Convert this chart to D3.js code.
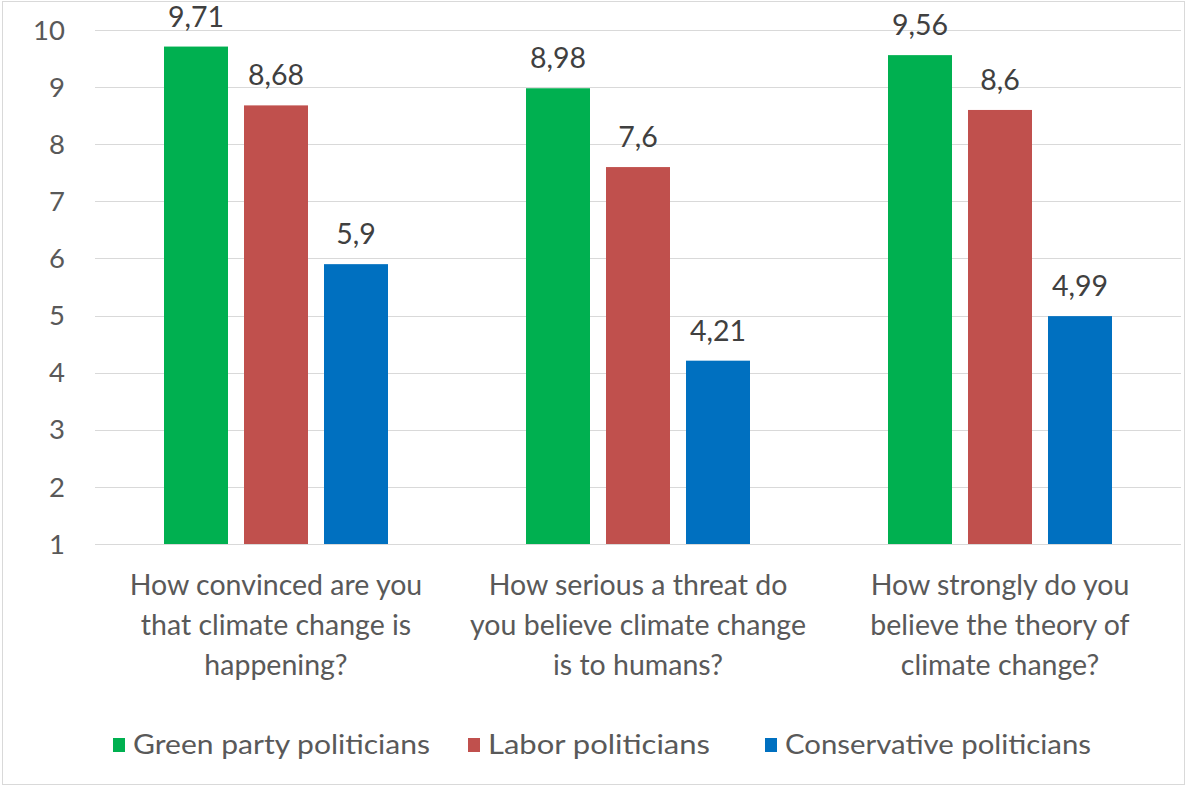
<!DOCTYPE html>
<html>
<head>
<meta charset="utf-8">
<script src="https://cdn.jsdelivr.net/npm/d3@7"></script>
<style>
  html, body { margin: 0; padding: 0; background: #fff; }
  svg { display: block; font-family: Lato, "Open Sans", sans-serif; }
</style>
</head>
<body>
<div id="chart"></div>
<script>
// Data
const categories = [
  ['How convinced are you', 'that climate change is', 'happening?'],
  ['How serious a threat do', 'you believe climate change', 'is to humans?'],
  ['How strongly do you', 'believe the theory of', 'climate change?']
];
const seriesNames = ['Green party politicians', 'Labor politicians', 'Conservative politicians'];
const seriesColors = ['#00b050', '#c0504d', '#0070c0'];
const greenValues = [9.71, 8.98, 9.56];
const laborValues = [8.68, 7.6, 8.6];
const conservativeValues = [5.9, 4.21, 4.99];
const yTicks = [1, 2, 3, 4, 5, 6, 7, 8, 9, 10];

const series = [greenValues, laborValues, conservativeValues];

const width = 1187, height = 787;
const plot = { left: 95, right: 1181, top: 30, bottom: 544 };
const textColor = '#595959';

const svg = d3.select('#chart')
  .append('svg')
  .attr('width', width)
  .attr('height', height);

// chart border
svg.append('rect')
  .attr('x', 2.5).attr('y', 1.5)
  .attr('width', width - 5).attr('height', height - 4)
  .attr('fill', '#fff')
  .attr('stroke', '#d9d9d9');

const y = d3.scaleLinear().domain([1, 10]).range([plot.bottom, plot.top]);

const x0 = d3.scaleBand()
  .domain(d3.range(categories.length))
  .range([plot.left, plot.right]);

const x1 = d3.scaleBand()
  .domain(d3.range(series.length))
  .range([69, x0.bandwidth() - 69])
  .paddingInner(0.2);

// gridlines
svg.append('g')
  .selectAll('line')
  .data(yTicks)
  .join('line')
  .attr('x1', plot.left).attr('x2', plot.right)
  .attr('y1', d => Math.round(y(d)) + 0.5)
  .attr('y2', d => Math.round(y(d)) + 0.5)
  .attr('stroke', '#d9d9d9')
  .attr('stroke-width', 1);

// y tick labels
svg.append('g')
  .selectAll('text')
  .data(yTicks)
  .join('text')
  .attr('x', 65)
  .attr('y', d => y(d))
  .attr('dy', '0.35em')
  .attr('text-anchor', 'end')
  .attr('fill', textColor)
  .attr('font-size', 27.5)
  .text(d => d);

// bars
const groups = svg.append('g')
  .selectAll('g')
  .data(categories)
  .join('g')
  .attr('transform', (d, i) => `translate(${x0(i)},0)`);

groups.selectAll('rect')
  .data((d, i) => series.map((s, j) => ({ j, v: s[i] })))
  .join('rect')
  .attr('x', d => x1(d.j))
  .attr('width', x1.bandwidth())
  .attr('y', d => y(d.v))
  .attr('height', d => y(1) - y(d.v))
  .attr('fill', d => seriesColors[d.j]);

// value labels
groups.selectAll('text.value')
  .data((d, i) => series.map((s, j) => ({ j, v: s[i] })))
  .join('text')
  .attr('class', 'value')
  .attr('x', d => x1(d.j) + x1.bandwidth() / 2)
  .attr('y', d => y(d.v) - 20)
  .attr('text-anchor', 'middle')
  .attr('fill', '#404040')
  .attr('font-size', 28.5)
  .text(d => String(d.v).replace('.', ','));

// category labels
groups.append('text')
  .attr('text-anchor', 'middle')
  .attr('fill', textColor)
  .attr('font-size', 28.5)
  .selectAll('tspan')
  .data(d => d)
  .join('tspan')
  .attr('x', x0.bandwidth() / 2)
  .attr('y', (d, k) => 595 + k * 40)
  .text(d => d);

// legend
const legendX = [113, 468, 765];
const legendW = [297, 222, 306];
const legend = svg.append('g')
  .selectAll('g')
  .data(seriesNames)
  .join('g')
  .attr('transform', (d, i) => `translate(${legendX[i]},745)`);

legend.append('rect')
  .attr('x', 0).attr('y', -7)
  .attr('width', 12).attr('height', 14)
  .attr('fill', (d, i) => seriesColors[i]);

legend.append('text')
  .attr('x', 20)
  .attr('y', 0)
  .attr('dy', '0.35em')
  .attr('fill', textColor)
  .attr('font-size', 27)
  .attr('textLength', (d, i) => legendW[i])
  .attr('lengthAdjust', 'spacingAndGlyphs')
  .text(d => d);
</script>
</body>
</html>
